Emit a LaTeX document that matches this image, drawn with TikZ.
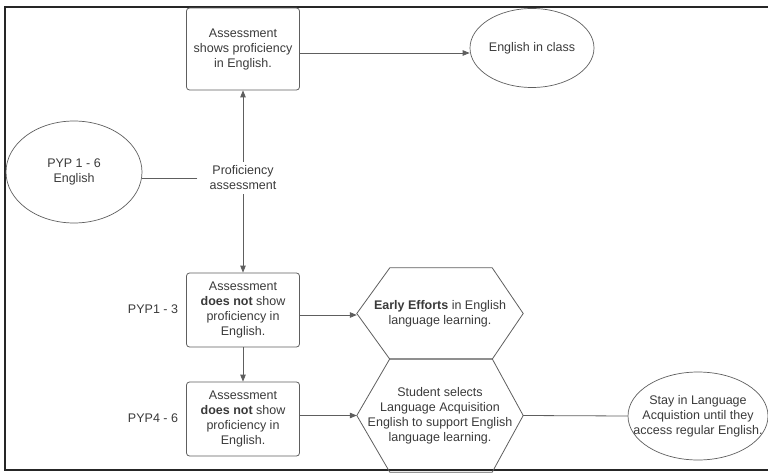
\documentclass[tikz,border=0pt]{standalone}
\usepackage{fontspec}
\setmainfont{Liberation Sans}
\usetikzlibrary{shapes.geometric,arrows.meta}
\definecolor{inkgray}{HTML}{3A3A3A}
\definecolor{linegray}{HTML}{5E5E5E}
\begin{document}
\begin{tikzpicture}
[
x=1pt, y=-1pt,
every node/.style={font=\fontsize{12.5}{15}\selectfont, text=inkgray, align=center},
Frame/.style={draw=black!85, line width=1.6pt},
StepBox/.style={rectangle, rounded corners=3pt, draw=linegray, line width=0.8pt, minimum width=113pt},
Oval/.style={ellipse, draw=linegray, line width=0.7pt, inner sep=0pt},
HexaSpace/.style={rectangle, minimum width=166pt, inner sep=0pt},
HexaLine/.style={draw=linegray, line width=0.8pt, line join=round},
Plain/.style={inner xsep=12pt, inner ysep=4pt},
Arrow/.style={-{Triangle[length=7pt,width=5.5pt]}, draw=linegray, line width=0.8pt},
Line/.style={-, draw=linegray, line width=0.8pt},
]

\useasboundingbox (0,0) rectangle (768,473);
\draw[Frame] (768,7)--(5,7)--(5,470)--(768,470);

\node[StepBox, minimum height=82pt] (shows) at (243,49) {Assessment\\shows proficiency\\in English.};
\node[Oval, minimum width=124pt, minimum height=79pt] (inclass) at (532,48) {English in class};
\node[Oval, minimum width=136pt, minimum height=102pt] (pyp) at (74,172) {PYP 1 - 6\\English};
\node[Plain] (prof) at (243,178) {Proficiency\\assessment};

\node[StepBox, minimum height=74pt] (notone) at (243,310) {Assessment\\\textbf{does not} show\\proficiency in\\English.};
\node[StepBox, minimum height=74pt] (nottwo) at (243,419) {Assessment\\\textbf{does not} show\\proficiency in\\English.};
\node (lowpyp) at (153,309) {PYP1 - 3};
\node (highpyp) at (153,418) {PYP4 - 6};

\node[HexaSpace, minimum height=91pt] (early) at (440,313.5) {\textbf{Early Efforts} in English\\language learning.};
\node[HexaSpace, minimum height=113pt] (selects) at (440,415.5) {Student selects\\Language Acquisition\\English to support English\\language learning.};
\node[Oval, minimum width=140pt, minimum height=88pt, label={center:Stay in Language\\Acquistion until they\\access regular English.}] (stay) at (698,416) {};

% hexagon outlines
\foreach \hex in {early,selects}
  \draw[HexaLine] (\hex.west) -- ([xshift=33pt]\hex.north west) -- ([xshift=-31pt]\hex.north east)
    -- (\hex.east) -- ([xshift=-31pt]\hex.south east) -- ([xshift=33pt]\hex.south west) -- cycle;

% connectors
\draw[Line] (prof.west) -- (prof.west -| pyp.east);
\draw[Arrow] (prof.north) -- (shows.south);
\draw[Arrow] (prof.south) -- (notone.north);
\draw[Arrow] ([yshift=-4pt]shows.east) -- ([yshift=-4pt]shows.east -| inclass.west);
\draw[Arrow] ([yshift=-1.5pt]early.west -| notone.east) -- ([yshift=-1.5pt]early.west);
\draw[Arrow] (notone.south) -- (nottwo.north);
\draw[Arrow] (selects.west -| nottwo.east) -- (selects.west);
\draw[Line] (selects.east) -- (stay.west);

\end{tikzpicture}
\end{document}
